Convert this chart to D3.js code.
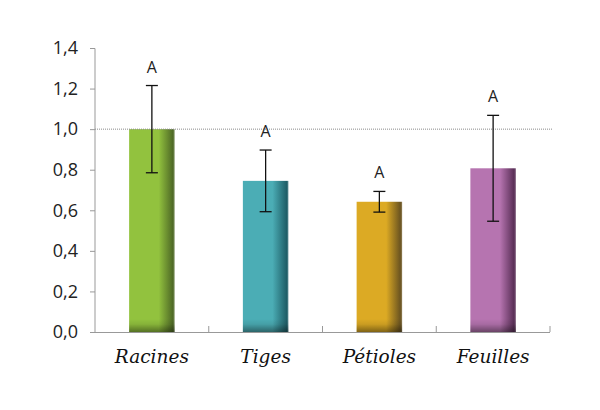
<!DOCTYPE html>
<html>
<head>
<meta charset="utf-8">
<script src="https://d3js.org/d3.v7.min.js"></script>
<style>
  body { margin: 0; background: #fff; }
</style>
</head>
<body>
<div class="chart"></div>
<script>
// Chart data
var categories = ["Racines", "Tiges", "Pétioles", "Feuilles"];
var values = [1.0, 0.745, 0.642, 0.807];
var errors = [0.215, 0.152, 0.051, 0.261];
var letters = ["A", "A", "A", "A"];
var colors = ["#92c23e", "#4badb5", "#dcaa24", "#b674b0"];
var darkColors = ["#4f6a26", "#1f5f68", "#6b5420", "#5a2f57"];
var yTicks = [0, 0.2, 0.4, 0.6, 0.8, 1.0, 1.2, 1.4];

var svgWidth = 600;
var svgHeight = 410;

var margin = { top: 48, right: 50, bottom: 78, left: 95 };
var chartWidth = svgWidth - margin.left - margin.right;
var chartHeight = svgHeight - margin.top - margin.bottom;

var svg = d3.select(".chart")
    .append("svg")
    .attr("width", svgWidth)
    .attr("height", svgHeight);

var defs = svg.append("defs");

// horizontal shading per bar
colors.forEach(function(c, i) {
    var g = defs.append("linearGradient")
        .attr("id", "grad" + i)
        .attr("x1", "0%").attr("x2", "100%")
        .attr("y1", "0%").attr("y2", "0%");
    g.append("stop").attr("offset", "0%").attr("stop-color", c);
    g.append("stop").attr("offset", "65%").attr("stop-color", c);
    g.append("stop").attr("offset", "96%").attr("stop-color", darkColors[i]);
    g.append("stop").attr("offset", "100%").attr("stop-color", d3.interpolateRgb(darkColors[i], "#fff")(0.25));
});

// dark fade at the bottom of each bar
var shade = defs.append("linearGradient")
    .attr("id", "bottomShade")
    .attr("x1", "0").attr("x2", "0")
    .attr("y1", "0").attr("y2", "1");
shade.append("stop").attr("offset", "0%").attr("stop-color", "#000").attr("stop-opacity", 0);
shade.append("stop").attr("offset", "40%").attr("stop-color", "#000").attr("stop-opacity", 0.08);
shade.append("stop").attr("offset", "75%").attr("stop-color", "#000").attr("stop-opacity", 0.28);
shade.append("stop").attr("offset", "100%").attr("stop-color", "#000").attr("stop-opacity", 0.42);

var chartGroup = svg.append("g")
    .attr("transform", `translate(${margin.left}, ${margin.top})`);

var xBandScale = d3.scaleBand()
    .domain(categories)
    .range([0, chartWidth])
    .paddingInner(0.6)
    .paddingOuter(0.3);

var yLinearScale = d3.scaleLinear()
    .domain([0, 1.4])
    .range([chartHeight, 0]);

// Bars
var bars = chartGroup.selectAll(".bar")
    .data(categories)
    .enter().append("g")
    .attr("class", "bar");

bars.append("rect")
    .attr("x", d => xBandScale(d))
    .attr("y", (d, i) => yLinearScale(values[i]))
    .attr("width", xBandScale.bandwidth())
    .attr("height", (d, i) => chartHeight - yLinearScale(values[i]))
    .attr("fill", (d, i) => "url(#grad" + i + ")");

bars.append("rect")
    .attr("x", d => xBandScale(d))
    .attr("y", chartHeight - 13)
    .attr("width", xBandScale.bandwidth())
    .attr("height", 13)
    .attr("fill", "url(#bottomShade)");

// Reference line at 1.0
chartGroup.append("line")
    .attr("x1", 0)
    .attr("x2", chartWidth + 2)
    .attr("y1", yLinearScale(1.0))
    .attr("y2", yLinearScale(1.0))
    .attr("stroke", "#8a8a8a")
    .attr("stroke-width", 1)
    .attr("stroke-dasharray", "1,1");

// Error bars
var cx = d => xBandScale(d) + xBandScale.bandwidth() / 2;
var eb = chartGroup.selectAll(".err")
    .data(categories)
    .enter().append("g")
    .attr("class", "err")
    .attr("stroke", "#111")
    .attr("stroke-width", 1.3);

eb.append("line")
    .attr("x1", cx).attr("x2", cx)
    .attr("y1", (d, i) => yLinearScale(values[i] + errors[i]))
    .attr("y2", (d, i) => yLinearScale(values[i] - errors[i]));
eb.append("line")
    .attr("x1", d => cx(d) - 6).attr("x2", d => cx(d) + 6)
    .attr("y1", (d, i) => yLinearScale(values[i] + errors[i]))
    .attr("y2", (d, i) => yLinearScale(values[i] + errors[i]));
eb.append("line")
    .attr("x1", d => cx(d) - 6).attr("x2", d => cx(d) + 6)
    .attr("y1", (d, i) => yLinearScale(values[i] - errors[i]))
    .attr("y2", (d, i) => yLinearScale(values[i] - errors[i]));

// Significance letters
chartGroup.selectAll(".letter")
    .data(categories)
    .enter().append("text")
    .attr("class", "letter")
    .attr("x", cx)
    .attr("y", (d, i) => yLinearScale(values[i] + errors[i]) - 13)
    .attr("text-anchor", "middle")
    .style("font-family", "'Open Sans', sans-serif")
    .style("font-size", "16px")
    .style("fill", "#222")
    .text((d, i) => letters[i]);

// Axes
var leftAxis = d3.axisLeft(yLinearScale)
    .tickValues(yTicks)
    .tickSize(5)
    .tickPadding(12)
    .tickFormat(d => d3.format(".1f")(d).replace(".", ","));

var bottomAxis = d3.axisBottom(xBandScale)
    .tickSize(0)
    .tickPadding(18);

var yAxisG = chartGroup.append("g")
    .classed("axis", true)
    .call(leftAxis);

var xAxisG = chartGroup.append("g")
    .classed("axis", true)
    .attr("transform", "translate(0, " + chartHeight + ")")
    .call(bottomAxis);

// category separator ticks (pointing up into the plot)
var seps = d3.range(1, categories.length + 1).map(i => i * xBandScale.step());
xAxisG.selectAll(".sep")
    .data(seps)
    .enter().append("line")
    .attr("class", "sep")
    .attr("x1", d => d).attr("x2", d => d)
    .attr("y1", 0).attr("y2", -6);

svg.selectAll(".axis path, .axis line").attr("stroke", "#999");
yAxisG.select(".domain").attr("d", "M0," + chartHeight + "V0.5");
xAxisG.select(".domain").attr("d", "M0,0.5H" + chartWidth);

yAxisG.selectAll("text")
    .style("font-family", "'Open Sans', sans-serif")
    .style("font-size", "18px")
    .style("fill", "#222");

xAxisG.selectAll("text")
    .style("font-family", "'DejaVu Serif', serif")
    .style("font-style", "italic")
    .style("font-size", "18.5px")
    .style("fill", "#111");
</script>
</body>
</html>
